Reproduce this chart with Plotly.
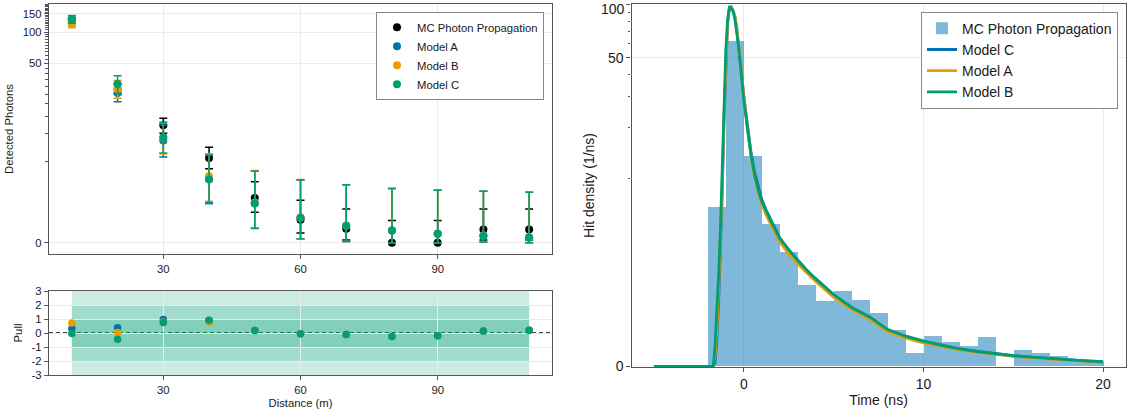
import numpy as np
import plotly.graph_objects as go

# ---------------- data: detected photons vs distance ----------------
distance = [10, 20, 30, 40, 50, 60, 70, 80, 90, 100, 110]

mc = [131, 28.0, 12.1, 5.4, 1.67, 0.66, 0.36, 0.0, 0.0, 0.34, 0.34]
mc_lo = [124.5, 25.0, 10.05, 4.05, 0.95, 0.24, 0.06, 0.0, 0.0, 0.06, 0.06]
mc_hi = [137.5, 31.3, 14.3, 7.1, 2.80, 1.54, 1.10, 0.63, 0.63, 1.10, 1.10]

model_a = [127, 25.6, 8.4, 3.05, 1.38, 0.72, 0.44, 0.31, 0.22, 0.17, 0.12]
model_a_lo = [116, 21.0, 5.55, 1.40, 0.38, 0.09, 0.03, 0.0, 0.0, 0.01, 0.0]
model_a_hi = [138.5, 31.5, 12.2, 5.90, 3.80, 2.95, 2.57, 2.28, 2.16, 2.09, 2.03]

model_b = [121, 28.0, 9.0, 3.3, 1.42, 0.75, 0.46, 0.31, 0.22, 0.17, 0.12]
model_b_lo = [110, 22.8, 6.0, 1.48, 0.38, 0.09, 0.03, 0.0, 0.0, 0.01, 0.0]
model_b_hi = [132, 34.0, 12.8, 6.05, 3.86, 2.99, 2.56, 2.28, 2.16, 2.09, 2.03]

model_c = [133, 31.4, 9.1, 3.0, 1.36, 0.72, 0.45, 0.31, 0.22, 0.16, 0.12]
model_c_lo = [121.5, 25.2, 6.15, 1.35, 0.37, 0.09, 0.03, 0.0, 0.0, 0.01, 0.0]
model_c_hi = [144.5, 37.8, 13.0, 5.85, 3.80, 2.97, 2.56, 2.28, 2.16, 2.09, 2.03]

pull_a = [0.32, 0.37, 0.96, 0.90, 0.18, -0.05, -0.10, -0.25, -0.20, 0.15, 0.20]
pull_b = [0.72, 0.04, 0.78, 0.77, 0.18, -0.05, -0.10, -0.25, -0.20, 0.15, 0.20]
pull_c = [-0.04, -0.44, 0.75, 0.91, 0.18, -0.05, -0.10, -0.25, -0.20, 0.15, 0.20]

top_yticks = [0, 50, 100, 150]
pull_yticks = [-3, -2, -1, 0, 1, 2, 3]
dist_xticks = [30, 60, 90]

# ---------------- data: hit time distribution ----------------
hist_edges = list(range(-2, 21))
hist_density = [6.6, 62.1, 13.6, 5.12, 3.32, 1.83, 1.29, 1.63, 1.34, 0.98, 0.60,
                0.19, 0.48, 0.36, 0.29, 0.45, 0.0, 0.24, 0.19, 0.146, 0.099, 0.052]

time = [-5, -1.8, -1.7, -1.6, -1.5, -1.4, -1.3, -1.2, -1.1, -1.0, -0.9, -0.8, -0.7,
        -0.6, -0.5, -0.4, -0.3, -0.2, -0.1, 0.0, 0.2, 0.4, 0.6, 0.8, 1.0, 1.25, 1.5,
        2.0, 2.5, 3.0, 3.5, 4.0, 5.0, 6.0, 7.0, 8.0, 9.0, 10.0, 11.0, 12.0, 13.0,
        14.0, 15.0, 16.0, 17.0, 18.0, 19.0, 20.0]
curve_c = [0, 0, 0, 0.05, 0.4, 1.3, 3.3, 8.0, 22, 48, 78, 95, 96.5,
           92.5, 85.5, 74.5, 61.5, 49, 38.5, 30.3, 20.6, 14.4, 10.9, 8.8, 7.4, 6.3, 5.5,
           4.15, 3.42, 2.86, 2.42, 2.06, 1.5, 1.12, 0.88, 0.6, 0.47, 0.38, 0.31, 0.25, 0.21,
           0.175, 0.146, 0.125, 0.105, 0.089, 0.075, 0.062]
curve_a = [0, 0, 0, 0.15, 0.6, 1.7, 4.0, 9.0, 24, 50, 79, 94, 95.5,
           92.5, 86, 75, 62, 49, 38.5, 30.0, 19.8, 13.6, 10.2, 8.2, 6.9, 5.9, 5.1,
           3.9, 3.2, 2.7, 2.3, 1.95, 1.42, 1.07, 0.83, 0.56, 0.44, 0.35, 0.29, 0.235, 0.195,
           0.165, 0.137, 0.117, 0.098, 0.083, 0.07, 0.057]
curve_b = [0, 0, 0.0, 0.3, 0.9, 2.2, 4.8, 10.5, 28, 55, 82, 96, 95,
           91, 83, 72, 59, 47, 37, 29, 19.8, 13.8, 10.5, 8.5, 7.2, 6.2, 5.4,
           4.1, 3.4, 2.85, 2.4, 2.05, 1.5, 1.12, 0.88, 0.6, 0.47, 0.38, 0.31, 0.25, 0.21,
           0.175, 0.146, 0.125, 0.105, 0.089, 0.075, 0.062]

time_xticks = [0, 10, 20]
hit_yticks = [0, 50, 100]

# ---------------- helpers ----------------
def plog(v):
    v = np.asarray(v, dtype=float)
    return np.sign(v) * np.log10(np.abs(v) + 1.0)

BLACK = "#000000"
BLUE = "#0072B2"
ORANGE = "#E69F00"
GREEN = "#009E73"
FRAME = "#555555"
GRID = "#ebebeb"
FONT = "Liberation Sans, Arial, sans-serif"
FS_L = 11.3
FS_R = 14

fig = go.Figure()

def add_points(name, vals, lo, hi, color):
    y = plog(vals)
    fig.add_trace(go.Scatter(
        x=distance, y=y, mode="markers", name=name,
        marker=dict(color=color, size=8),
        error_y=dict(type="data", symmetric=False,
                     array=plog(hi) - y, arrayminus=y - plog(lo),
                     color=color, thickness=1.5, width=4),
        xaxis="x", yaxis="y", legend="legend"))

add_points("MC Photon Propagation", mc, mc_lo, mc_hi, BLACK)
add_points("Model A", model_a, model_a_lo, model_a_hi, BLUE)
add_points("Model B", model_b, model_b_lo, model_b_hi, ORANGE)
add_points("Model C", model_c, model_c_lo, model_c_hi, GREEN)

for vals, color in [(pull_a, BLUE), (pull_b, ORANGE), (pull_c, GREEN)]:
    fig.add_trace(go.Scatter(x=distance, y=vals, mode="markers", showlegend=False,
                             marker=dict(color=color, size=7.5),
                             xaxis="x2", yaxis="y2"))

# histogram
centers = [(hist_edges[i] + hist_edges[i + 1]) / 2 for i in range(len(hist_density))]
fig.add_trace(go.Bar(x=centers, y=plog(hist_density), width=1.0,
                     name="MC Photon Propagation",
                     marker=dict(color="rgba(0,114,178,0.5)", line=dict(width=0)),
                     xaxis="x3", yaxis="y3", legend="legend2"))
for name, vals, color in [("Model C", curve_c, BLUE), ("Model A", curve_a, ORANGE),
                          ("Model B", curve_b, GREEN)]:
    fig.add_trace(go.Scatter(x=time, y=plog(vals), mode="lines", name=name,
                             line=dict(color=color, width=2.8),
                             xaxis="x3", yaxis="y3", legend="legend2"))

# ---------------- shapes in pull panel ----------------
shapes = []
for b in [3, 2, 1]:
    shapes.append(dict(type="rect", xref="x2", yref="y2", x0=distance[0], x1=distance[-1],
                       y0=-b, y1=b, fillcolor="rgba(0,158,115,0.2)", line=dict(width=0),
                       layer="below"))
shapes.append(dict(type="line", xref="x2 domain", yref="y2", x0=0, x1=1, y0=0, y1=0,
                   line=dict(color="black", width=1.3, dash="4px,3px"), layer="below"))

W, H = 1128, 416
def px_x(a, b):
    return [a / W, b / W]
def px_y(top, bottom):
    return [1 - bottom / H, 1 - top / H]

axis_common = dict(showline=True, mirror=True, linecolor=FRAME, linewidth=1.2,
                   ticks="outside", tickcolor=FRAME, ticklen=4, gridcolor=GRID,
                   showgrid=True, zeroline=False, automargin=False,
                   ticklabeloverflow="allow")

minor_top = [v for v in range(5, 190, 5) if v not in top_yticks]
minor_hit = [v for v in range(10, 100, 10) if v not in hit_yticks]

# the top tick label of the right panel sits at the page edge: draw it as an
# annotation nudged just inside the page so that it is not cut off
hit_ticktext = [str(v) for v in hit_yticks[:-1]] + [""]
RIGHT_LEFT = 631.5
annotations = [dict(text=str(hit_yticks[-1]), xref="paper", yref="paper",
                    x=(RIGHT_LEFT - 6) / W, y=1.0, xanchor="right", yanchor="top",
                    showarrow=False, font=dict(size=FS_R, family=FONT, color="#1a1a1a"),
                    borderpad=0)]

fig.update_layout(
    width=W, height=H, margin=dict(l=0, r=0, t=0, b=0, autoexpand=False),
    paper_bgcolor="white", plot_bgcolor="white",
    font=dict(family=FONT, color="#1a1a1a", size=FS_L),
    shapes=shapes, annotations=annotations,
    xaxis=dict(domain=px_x(49, 552), range=[5, 115], anchor="y",
               tickvals=dist_xticks, tickfont=dict(size=FS_L), **axis_common),
    yaxis=dict(domain=px_y(4, 254), range=[-0.107, 2.2725], anchor="x",
               tickvals=plog(top_yticks), ticktext=[str(v) for v in top_yticks],
               tickfont=dict(size=FS_L),
               title=dict(text="Detected Photons", font=dict(size=FS_L), standoff=6),
               minor=dict(tickvals=plog(minor_top), ticks="outside", ticklen=2.5,
                          tickcolor=FRAME, showgrid=False),
               **axis_common),
    xaxis2=dict(domain=px_x(49, 552), range=[5, 115], anchor="y2",
                tickvals=dist_xticks, tickfont=dict(size=FS_L),
                title=dict(text="Distance (m)", font=dict(size=FS_L), standoff=4),
                **axis_common),
    yaxis2=dict(domain=px_y(291, 375), range=[-3, 3], anchor="x2",
                tickvals=pull_yticks, ticktext=[str(v) for v in pull_yticks],
                tickfont=dict(size=FS_L),
                title=dict(text="Pull", font=dict(size=FS_L), standoff=6),
                **axis_common),
    xaxis3=dict(domain=px_x(RIGHT_LEFT, 1125.5), range=[-6.25, 21.25], anchor="y3",
                tickvals=time_xticks, tickfont=dict(size=FS_R),
                title=dict(text="Time (ns)", font=dict(size=FS_R), standoff=4),
                **axis_common),
    yaxis3=dict(domain=px_y(4, 367), range=[-0.003, 2.0050], anchor="x3",
                tickvals=plog(hit_yticks), ticktext=hit_ticktext,
                tickfont=dict(size=FS_R),
                title=dict(text="Hit density (1/ns)", font=dict(size=FS_R), standoff=10),
                minor=dict(tickvals=plog(minor_hit), ticks="outside", ticklen=2.5,
                           tickcolor=FRAME, showgrid=False),
                **axis_common),
    legend=dict(x=544 / W, y=1 - 11.7 / H, xanchor="right", yanchor="top",
                bgcolor="white", bordercolor="#888888", borderwidth=1,
                font=dict(size=FS_L), tracegroupgap=0, itemwidth=30),
    legend2=dict(x=1118 / W, y=1 - 11.7 / H, xanchor="right", yanchor="top",
                 bgcolor="white", bordercolor="#888888", borderwidth=1,
                 font=dict(size=FS_R), tracegroupgap=0, itemwidth=30),
    bargap=0,
)

fig.write_html("out.html")
